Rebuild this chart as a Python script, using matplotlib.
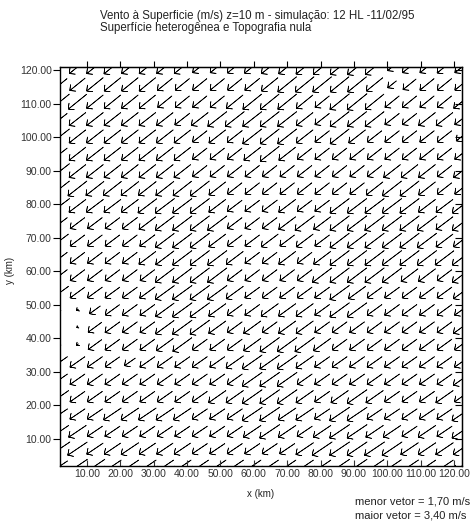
import numpy as np
import matplotlib
matplotlib.use('Agg')
import matplotlib.pyplot as plt

plt.rcParams['font.family'] = ['Liberation Sans', 'DejaVu Sans']

# Grade do modelo: 24 x 24 pontos
nx, ny = 24, 24
x_lim = (1.9, 122.4)
y_lim = (1.95, 120.9)

# Velocidade do vento (m/s), linhas de norte (y maximo) para sul
vel = [
    [3.1, 3.08, 3.1, 3.14, 3.1, 3.1, 3.08, 3.08, 2.9, 2.9, 2.95, 3.0, 3.1, 3.14, 3.18, 3.22, 3.3, 3.33, 3.3, 2.45, 2.9, 2.9, 2.95, 2.9],
    [2.9, 3.0, 3.1, 3.1, 3.1, 3.1, 2.95, 2.9, 2.9, 2.9, 2.9, 2.95, 3.1, 3.3, 3.3, 3.3, 3.3, 3.3, 3.1, 2.4, 2.8, 2.9, 2.9, 2.9],
    [3.3, 3.26, 3.1, 3.1, 3.1, 3.08, 2.9, 2.9, 2.9, 2.9, 3.1, 3.3, 3.3, 3.3, 3.1, 2.9, 3.36, 3.4, 3.3, 2.9, 2.9, 2.9, 2.9, 3.1],
    [2.9, 3.1, 3.1, 3.1, 3.1, 3.1, 3.08, 2.95, 3.1, 3.3, 3.3, 3.3, 3.3, 3.3, 3.1, 2.9, 3.3, 3.3, 3.3, 2.9, 2.9, 3.1, 3.1, 2.9],
    [3.3, 3.1, 3.1, 3.1, 3.1, 3.1, 3.1, 3.08, 2.9, 3.1, 2.95, 3.3, 3.3, 3.3, 3.1, 2.9, 3.3, 3.1, 2.9, 2.9, 2.9, 2.9, 2.9, 2.65],
    [2.9, 3.1, 3.1, 3.1, 3.08, 3.1, 3.1, 3.08, 2.9, 2.9, 2.9, 3.1, 3.3, 3.1, 2.9, 2.9, 2.9, 2.9, 2.9, 2.9, 2.9, 2.9, 2.9, 2.9],
    [3.3, 3.1, 3.1, 3.1, 3.1, 3.1, 3.1, 3.1, 2.9, 2.9, 2.9, 2.9, 2.9, 2.9, 2.9, 2.9, 2.9, 2.9, 2.9, 3.1, 3.1, 3.1, 2.9, 3.1],
    [3.3, 3.3, 3.22, 3.22, 3.18, 3.18, 3.22, 3.26, 3.3, 3.1, 2.9, 2.9, 2.9, 2.9, 2.9, 2.9, 2.9, 2.9, 3.1, 3.3, 3.3, 3.1, 2.9, 2.9],
    [3.3, 3.1, 3.1, 3.1, 3.1, 3.26, 3.3, 3.3, 3.3, 3.1, 2.9, 2.9, 2.95, 3.1, 2.9, 2.9, 3.3, 3.3, 3.3, 3.3, 3.3, 3.1, 3.1, 3.3],
    [2.9, 2.9, 2.9, 2.9, 2.95, 3.08, 3.26, 3.3, 3.3, 3.3, 2.9, 2.9, 2.9, 3.1, 3.3, 3.1, 3.3, 3.33, 3.33, 3.3, 3.3, 3.3, 3.1, 3.3],
    [3.1, 2.9, 2.9, 2.9, 2.9, 2.95, 3.26, 3.3, 3.3, 3.1, 2.9, 2.9, 3.1, 2.9, 3.1, 2.9, 3.3, 3.3, 3.3, 3.3, 3.3, 3.3, 3.1, 3.1],
    [2.9, 2.9, 2.9, 2.9, 2.9, 3.1, 3.22, 3.3, 3.3, 3.3, 3.1, 2.9, 2.9, 3.1, 2.9, 3.1, 3.3, 3.3, 3.3, 3.3, 3.3, 3.3, 3.26, 3.3],
    [2.9, 2.9, 2.9, 2.9, 2.9, 2.9, 3.26, 3.3, 3.3, 3.3, 2.9, 2.9, 2.9, 2.9, 2.9, 3.3, 3.3, 3.3, 3.3, 3.3, 3.1, 3.1, 2.9, 3.3],
    [3.1, 2.9, 2.9, 2.9, 2.9, 2.95, 3.26, 3.3, 3.3, 3.3, 3.1, 2.9, 2.9, 2.9, 2.9, 2.9, 3.3, 3.1, 2.9, 2.9, 2.9, 2.9, 2.9, 3.1],
    [1.72, 1.8, 2.55, 2.85, 2.9, 2.9, 3.22, 3.3, 3.3, 3.1, 2.9, 2.9, 3.1, 3.1, 3.1, 2.9, 3.3, 3.3, 2.9, 2.9, 2.9, 2.9, 2.9, 2.9],
    [1.70, 1.75, 2.8, 2.9, 2.9, 2.9, 3.22, 3.3, 3.3, 3.1, 2.9, 3.1, 2.9, 3.1, 3.1, 2.9, 2.9, 2.9, 2.9, 2.9, 2.9, 2.9, 2.9, 3.1],
    [1.72, 1.8, 2.8, 2.9, 2.9, 2.9, 3.08, 3.26, 2.9, 2.9, 2.9, 3.1, 3.3, 3.3, 3.3, 3.1, 2.9, 2.9, 2.9, 2.9, 2.9, 2.9, 2.9, 2.9],
    [2.9, 2.9, 2.9, 2.85, 2.55, 2.9, 2.9, 2.9, 2.9, 2.9, 3.1, 3.3, 3.3, 3.3, 3.1, 2.9, 2.9, 2.9, 2.9, 2.9, 2.9, 2.9, 2.9, 2.9],
    [2.9, 2.9, 2.9, 2.9, 2.9, 2.9, 2.9, 2.9, 2.9, 2.9, 2.9, 3.3, 3.3, 3.3, 2.9, 2.9, 2.9, 2.9, 2.9, 2.9, 2.9, 2.9, 2.9, 3.1],
    [3.1, 2.9, 2.9, 2.9, 2.9, 2.9, 2.9, 2.9, 2.9, 3.1, 3.1, 3.3, 3.3, 3.3, 3.1, 2.9, 3.1, 3.3, 3.1, 2.9, 2.9, 2.9, 3.1, 2.9],
    [2.9, 2.9, 2.9, 3.1, 3.1, 3.1, 3.1, 3.1, 2.9, 2.9, 2.9, 3.3, 3.3, 3.1, 3.1, 2.9, 3.3, 3.3, 2.9, 2.9, 2.9, 2.9, 2.9, 3.3],
    [3.1, 3.1, 2.9, 2.9, 2.9, 2.9, 2.9, 2.9, 2.9, 2.9, 2.9, 3.1, 3.3, 3.1, 2.9, 3.1, 3.3, 3.3, 3.1, 3.1, 2.9, 3.1, 2.9, 3.3],
    [3.3, 3.26, 3.0, 3.0, 3.1, 3.0, 3.0, 3.0, 2.9, 2.9, 2.9, 2.9, 2.9, 2.9, 3.1, 3.3, 3.3, 3.3, 3.3, 3.3, 3.1, 3.1, 3.1, 3.1],
    [2.9, 3.3, 3.3, 3.1, 3.1, 3.1, 3.1, 3.1, 3.1, 3.1, 3.1, 3.1, 3.1, 3.1, 3.1, 3.1, 3.3, 3.3, 3.22, 3.18, 3.14, 3.1, 3.1, 2.9],
]

# Direcao para onde o vento sopra (graus a partir do leste, anti-horario), por linha
direcao = [219, 219, 219, 218, 218, 218, 218, 218, 217, 217, 217, 217,
           217, 216, 216, 216, 216, 215, 215, 215, 214, 214, 214, 214]

menor_vetor = 1.70
maior_vetor = 3.40

titulo = ("Vento à Superficie (m/s) z=10 m - simulação: 12 HL -11/02/95\n"
          "Superfície heterogênea e Topografia nula")
ticks = [10, 20, 30, 40, 50, 60, 70, 80, 90, 100, 110, 120]

# Montagem das componentes u, v
x = np.linspace(x_lim[0], x_lim[1], nx)
y = np.linspace(y_lim[1], y_lim[0], ny)
X, Y = np.meshgrid(x, y)
spd = np.array(vel)
ang = np.deg2rad(np.array(direcao))[:, None]
# comprimento da seta medido a partir do menor vetor
comp = spd - (menor_vetor - 0.05)
U = comp * np.cos(ang)
V = comp * np.sin(ang)

fig = plt.figure(figsize=(4.72, 5.22), dpi=100)
ax = fig.add_axes([60 / 472, 1 - 466 / 522, 402 / 472, 399 / 522])

ax.quiver(X, Y, U, V, pivot='middle', units='dots', scale_units='dots',
          scale=1 / 14.5, width=0.3, headwidth=28, headlength=14,
          headaxislength=0, minshaft=1, minlength=0.5,
          color='k', edgecolor='k', linewidth=0.45)

ax.set_xlim(*x_lim)
ax.set_ylim(*y_lim)
ax.set_xticks(ticks)
ax.set_yticks(ticks)
ax.set_xticklabels([f'{t:.2f}' for t in ticks])
ax.set_yticklabels([f'{t:.2f}' for t in ticks])
ax.tick_params(axis='x', direction='in', length=4, width=0.8, pad=2,
               labelsize=7.5, colors='#333333', labelcolor='#333333')
ax.tick_params(axis='y', direction='out', length=5, width=0.8, pad=1,
               labelsize=7.5, labelcolor='#333333')
for s in ax.spines.values():
    s.set_linewidth(1.0)

# marcas no topo (para fora) e a direita (para dentro)
top = ax.secondary_xaxis('top')
top.set_xticks(ticks)
top.tick_params(direction='out', length=4, width=0.8, labeltop=False)
right = ax.secondary_yaxis('right')
right.set_yticks(ticks)
right.tick_params(direction='in', length=5, width=0.8, labelright=False)

fig.text(100 / 472, 1 - 10 / 522, titulo, ha='left', va='top', fontsize=8.3,
         linespacing=1.05, color='#222222')
fig.text(261 / 472, 1 - 494 / 522, 'x (km)', ha='center', va='center',
         fontsize=7, color='#222222')
fig.text(10 / 472, 1 - 270 / 522, 'y (km)', ha='center', va='center',
         rotation=90, fontsize=7, color='#222222')
fig.text(355 / 472, 1 - 502 / 522, f'menor vetor = {menor_vetor:.2f} m/s'.replace('.', ','),
         ha='left', va='center', fontsize=8, color='#222222')
fig.text(355 / 472, 1 - 515 / 522, f'maior vetor = {maior_vetor:.2f} m/s'.replace('.', ','),
         ha='left', va='center', fontsize=8, color='#222222')

fig.savefig('out.png', dpi=100)
